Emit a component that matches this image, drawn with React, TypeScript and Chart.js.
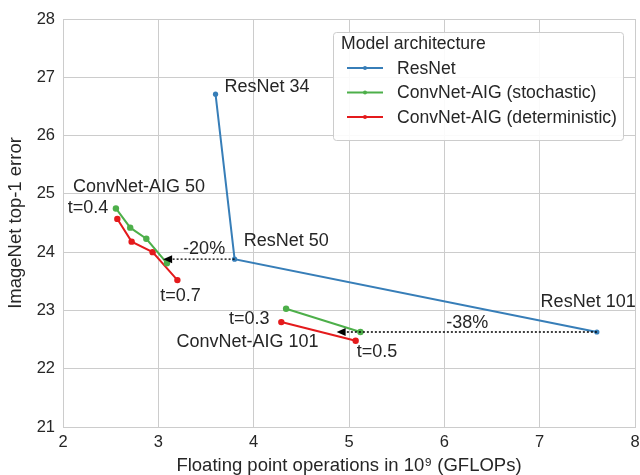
import React, { useEffect, useRef } from "react";
import { Chart, registerables } from "chart.js";

Chart.register(...registerables);

// ---------- data ----------
const seriesNames = ["ResNet", "ConvNet-AIG (stochastic)", "ConvNet-AIG (deterministic)"];
const seriesColors = ["#377eb8", "#4daf4a", "#e41a1c"];

const resnetFlops = [3.6, 3.8, 7.6];
const resnetError = [26.71, 23.88, 22.63];

const aig50StochFlops = [2.555, 2.705, 2.874, 3.09];
const aig50StochError = [24.75, 24.42, 24.23, 23.81];
const aig50DetFlops = [2.57, 2.72, 2.94, 3.2];
const aig50DetError = [24.57, 24.18, 24.0, 23.52];

const aig101StochFlops = [4.34, 5.12];
const aig101StochError = [23.03, 22.63];
const aig101DetFlops = [4.29, 5.07];
const aig101DetError = [22.8, 22.48];

const xTicks = [2, 3, 4, 5, 6, 7, 8];
const yTicks = [21, 22, 23, 24, 25, 26, 27, 28];

const labelTexts = ["ResNet 34", "ResNet 50", "ResNet 101", "ConvNet-AIG 50", "t=0.4", "t=0.7", "-20%", "t=0.3", "ConvNet-AIG 101", "t=0.5", "-38%"];
const labelX = [3.695, 3.895, 7.01, 2.105, 2.05, 3.02, 3.26, 3.74, 3.19, 5.08, 6.02];
const labelY = [26.83, 24.19, 23.15, 25.12, 24.76, 23.25, 24.05, 22.85, 22.46, 22.29, 22.79];

const arrowFromX = [3.8, 7.6];
const arrowToX = [3.05, 4.87];
const arrowY = [23.88, 22.63];

const FONT = '"Liberation Sans", Arial, Helvetica, sans-serif';
const TEXT = "#262626";
const GRID = "#cccccc";

const pts = (xs: number[], ys: number[]) => xs.map((x, i) => ({ x, y: ys[i] }));

const overlayPlugin = {
  id: "overlay",
  afterDatasetsDraw(chart: any) {
    const { ctx, scales } = chart;
    const xs = scales.x;
    const ys = scales.y;
    ctx.save();
    // arrows
    for (let i = 0; i < arrowFromX.length; i++) {
      const x0 = xs.getPixelForValue(arrowFromX[i]);
      const x1 = xs.getPixelForValue(arrowToX[i]);
      const y = ys.getPixelForValue(arrowY[i]);
      const headLen = 9;
      ctx.strokeStyle = "#000";
      ctx.lineWidth = 1.3;
      ctx.setLineDash([2, 2]);
      ctx.beginPath();
      ctx.moveTo(x0, y);
      ctx.lineTo(x1 + headLen, y);
      ctx.stroke();
      ctx.setLineDash([]);
      ctx.fillStyle = "#000";
      ctx.beginPath();
      ctx.moveTo(x1, y);
      ctx.lineTo(x1 + headLen, y - 4);
      ctx.lineTo(x1 + headLen, y + 4);
      ctx.closePath();
      ctx.fill();
    }
    // text labels
    ctx.font = `18px ${FONT}`;
    ctx.fillStyle = TEXT;
    ctx.textAlign = "left";
    ctx.textBaseline = "middle";
    for (let i = 0; i < labelTexts.length; i++) {
      ctx.fillText(labelTexts[i], xs.getPixelForValue(labelX[i]), ys.getPixelForValue(labelY[i]));
    }
    // legend
    const bx = 333, by = 32, bw = 290, bh = 108;
    ctx.fillStyle = "rgba(255,255,255,0.9)";
    ctx.strokeStyle = GRID;
    ctx.lineWidth = 1;
    ctx.beginPath();
    (ctx as any).roundRect ? (ctx as any).roundRect(bx + 0.5, by + 0.5, bw, bh, 3) : ctx.rect(bx + 0.5, by + 0.5, bw, bh);
    ctx.fill();
    ctx.stroke();
    ctx.fillStyle = TEXT;
    ctx.font = `17.6px ${FONT}`;
    ctx.fillText("Model architecture", 341, 44);
    for (let i = 0; i < seriesNames.length; i++) {
      const yy = 68 + i * 24.5;
      ctx.strokeStyle = seriesColors[i];
      ctx.lineWidth = 2;
      ctx.beginPath();
      ctx.moveTo(347, yy);
      ctx.lineTo(383, yy);
      ctx.stroke();
      ctx.fillStyle = seriesColors[i];
      ctx.beginPath();
      ctx.arc(365, yy, 2, 0, Math.PI * 2);
      ctx.fill();
      ctx.fillStyle = TEXT;
      ctx.fillText(seriesNames[i], 397, yy + 1);
    }
    ctx.restore();
  },
};

export default function App() {
  const ref = useRef<HTMLCanvasElement>(null);
  useEffect(() => {
    const mk = (data: any[], ci: number, r: number) => ({
      label: seriesNames[ci],
      data,
      borderColor: seriesColors[ci],
      backgroundColor: seriesColors[ci],
      borderWidth: 2,
      pointRadius: r,
      pointBorderWidth: 0,
      showLine: true,
      fill: false,
    });
    const chart = new Chart(ref.current!, {
      type: "scatter",
      data: {
        datasets: [
          mk(pts(resnetFlops, resnetError), 0, 2.6),
          mk(pts(aig50StochFlops, aig50StochError), 1, 3.2),
          mk(pts(aig101StochFlops, aig101StochError), 1, 3.2),
          mk(pts(aig50DetFlops, aig50DetError), 2, 3.2),
          mk(pts(aig101DetFlops, aig101DetError), 2, 3.2),
        ],
      },
      options: {
        responsive: false,
        devicePixelRatio: 1,
        animation: false,
        layout: { padding: { top: 19, right: 5, left: 0, bottom: 0 } },
        plugins: { legend: { display: false }, tooltip: { enabled: false } },
        scales: {
          x: {
            type: "linear",
            min: 2,
            max: 8,
            afterBuildTicks: (axis: any) => {
              axis.ticks = xTicks.map((v) => ({ value: v }));
            },
            afterFit: (axis: any) => {
              axis.height = 48;
              axis.paddingRight = 0;
              axis.paddingLeft = 0;
            },
            grid: { color: GRID, lineWidth: 1, drawTicks: false },
            border: { color: GRID, width: 1 },
            ticks: { color: TEXT, font: { size: 16.5, family: FONT }, padding: 6, maxRotation: 0 },
            title: {
              display: true,
              text: "Floating point operations in 10⁹ (GFLOPs)",
              color: TEXT,
              font: { size: 18.5, family: FONT, lineHeight: 1 },
              padding: { top: 0, bottom: 0 },
            },
          },
          y: {
            type: "linear",
            min: 21,
            max: 28,
            afterBuildTicks: (axis: any) => {
              axis.ticks = yTicks.map((v) => ({ value: v }));
            },
            afterFit: (axis: any) => {
              axis.width = 63;
              axis.paddingTop = 0;
              axis.paddingBottom = 0;
            },
            grid: { color: GRID, lineWidth: 1, drawTicks: false },
            border: { color: GRID, width: 1 },
            ticks: { color: TEXT, font: { size: 16.5, family: FONT }, padding: 8 },
            title: {
              display: true,
              text: "ImageNet top-1 error",
              color: TEXT,
              font: { size: 18.5, family: FONT, lineHeight: 1 },
              padding: { top: 7, bottom: 0 },
            },
          },
        },
      },
      plugins: [overlayPlugin],
    } as any);
    return () => chart.destroy();
  }, []);
  return (
    <div style={{ position: "fixed", left: 0, top: 0, width: 640, height: 475, background: "#fff" }}>
      <canvas ref={ref} width={640} height={475} style={{ display: "block", width: 640, height: 475 }} />
    </div>
  );
}
